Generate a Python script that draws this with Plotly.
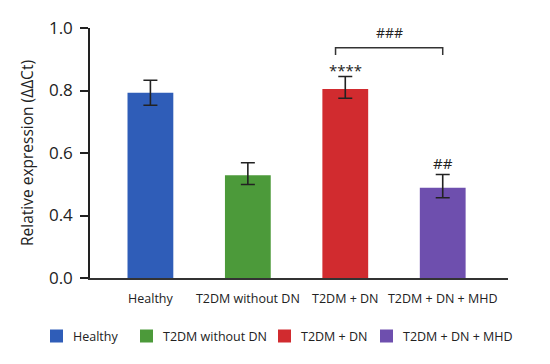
import plotly.graph_objects as go

categories = ["Healthy", "T2DM without DN", "T2DM + DN", "T2DM + DN + MHD"]
values = [0.793, 0.529, 0.805, 0.489]
err_up = [0.040, 0.040, 0.040, 0.042]
err_down = [0.040, 0.030, 0.030, 0.032]
colors = ["#2F5DB8", "#4C9A3A", "#D12B2F", "#6E4FAE"]
tick_values = [0.0, 0.4, 0.6, 0.8, 1.0]
tick_labels = ["0.0", "0.4", "0.6", "0.8", "1.0"]
sig_labels = ["", "", "****", "##"]


# Broken axis: 0.0-0.4 compressed to one tick interval
def pos(v):
    return v / 2 if v < 0.4 else v - 0.2


FONT = "Open Sans"
fig = go.Figure()
for i, c in enumerate(categories):
    fig.add_trace(go.Bar(
        x=[c], y=[pos(values[i])], name=c,
        marker=dict(color=colors[i], line=dict(width=0)),
        width=0.47,
        error_y=dict(type="data", symmetric=False, array=[err_up[i]],
                     arrayminus=[err_down[i]], color="#222222",
                     thickness=1.6, width=7),
    ))

for i, s in enumerate(sig_labels):
    if s:
        shift = -6 if s.startswith("*") else 0
        fig.add_annotation(x=categories[i], y=pos(values[i]) + err_up[i],
                           text=s, showarrow=False, yanchor="bottom", yshift=shift,
                           font=dict(size=15, color="#222222", family=FONT))

# bracket between T2DM + DN and T2DM + DN + MHD
br_top = 0.737
br_low = 0.714
fig.add_shape(type="path", xref="x", yref="y",
              path=f"M 1.9 {br_low} L 1.9 {br_top} L 3.0 {br_top} L 3.0 {br_low}",
              line=dict(color="#333333", width=1.5))
fig.add_annotation(x=2.45, y=br_top + 0.012, xref="x", yref="y", text="###",
                   showarrow=False, yanchor="bottom",
                   font=dict(size=14, color="#222222", family=FONT))

# legend drawn below the plot (paper coords)
sq_px = [50, 140, 278, 380]
pw = 418.0
leg_y = -0.232
for i, c in enumerate(categories):
    x0 = (sq_px[i] - 90) / pw
    x1 = (sq_px[i] + 13 - 90) / pw
    fig.add_shape(type="rect", xref="paper", yref="paper",
                  x0=x0, x1=x1, y0=leg_y - 6.5 / 250, y1=leg_y + 6.5 / 250,
                  fillcolor=colors[i], line=dict(width=0))
    fig.add_annotation(x=(sq_px[i] + 21 - 90) / pw, y=leg_y, xref="paper", yref="paper",
                       text=c, showarrow=False, xanchor="left", yanchor="middle",
                       font=dict(size=12.5, color="#222222", family=FONT))

fig.update_layout(
    width=534, height=348,
    margin=dict(l=82, r=34, t=20, b=78),
    paper_bgcolor="white", plot_bgcolor="white",
    font=dict(family=FONT, color="#222222"),
    showlegend=False,
    bargap=0.5,
)
fig.update_xaxes(range=[-0.62, 3.67], showline=True, linecolor="#333333", linewidth=1.5,
                 ticks="", tickfont=dict(size=12.5, color="#222222"), showgrid=False,
                 ticklabelstandoff=8, automargin=False, fixedrange=True)
fig.update_yaxes(range=[0, 0.8], tickvals=[pos(v) for v in tick_values], ticktext=tick_labels,
                 showline=True, linecolor="#222222", linewidth=1.5, ticks="outside",
                 ticklen=8, tickwidth=1.5, tickcolor="#222222", showgrid=False,
                 zeroline=False, tickfont=dict(size=17, color="#222222"),
                 ticklabelstandoff=4, automargin=False,
                 title=dict(text="Relative expression (ΔΔCt)", font=dict(size=15.5, color="#222222"),
                            standoff=12),
                 fixedrange=True)

fig.write_html("out.html")
